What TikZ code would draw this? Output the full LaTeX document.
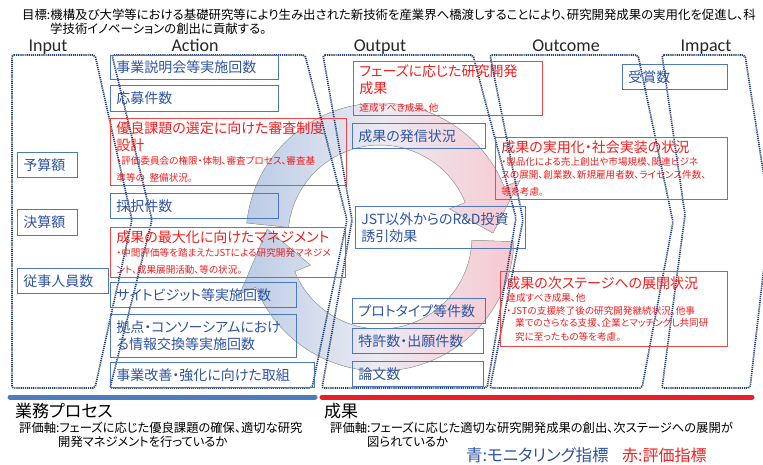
\documentclass[tikz,border=0pt]{standalone}
\usepackage{fontspec}
\setmainfont{Noto Sans CJK JP}[RawFeature=+palt]
\newfontfamily\latfont{Carlito}
\definecolor{boxblue}{RGB}{79,119,190}
\definecolor{txtblue}{RGB}{46,84,160}
\definecolor{boxred}{RGB}{240,70,70}
\definecolor{txtred}{RGB}{240,30,30}
\definecolor{colnavy}{RGB}{38,68,120}
\definecolor{barblue}{RGB}{75,125,190}
\definecolor{barred}{RGB}{235,30,40}
\definecolor{ringblue}{RGB}{186,204,230}
\definecolor{ringpink}{RGB}{248,200,208}
\definecolor{ringmid}{RGB}{236,234,242}
\tikzset{
  col/.style={draw=colnavy, line width=1.7pt, dash pattern=on 1.2pt off 0.9pt, rounded corners=2pt},
  bbox/.style={draw=boxblue, line width=0.9pt, text=txtblue, anchor=north west, inner xsep=6pt, inner ysep=0pt, align=left, font=\fontsize{14}{17}\selectfont},
  rbox/.style={draw=boxred, line width=0.9pt, text=txtred, anchor=north west, inner xsep=6pt, inner ysep=0pt, align=left, font=\fontsize{14}{17}\selectfont},
  hdr/.style={anchor=base, font=\latfont\fontsize{18}{20}\selectfont, text=black!85},
  plain/.style={anchor=base west, inner sep=0pt},
  ring/.style={left color=ringblue, right color=ringpink, middle color=ringmid, draw=black!35, line width=0.5pt}
}
\newcommand{\smalltxt}{\par\vspace{1pt}\fontsize{9.6}{12.2}\selectfont}
\begin{document}
\begin{tikzpicture}[x=1pt,y=-1pt]
\useasboundingbox (0,0) rectangle (763,464);

% circular arrows (drawn first, behind)
\filldraw[ring] plot[domain=186:338,samples=60] ({380+134*cos(\x)},{237+134*sin(\x)})
  -- ({380+151*cos(338)},{237+151*sin(338)})
  -- ({380+113*cos(358)},{237+113*sin(358)})
  -- ({380+75*cos(338)},{237+75*sin(338)})
  -- plot[domain=338:186,samples=60] ({380+92*cos(\x)},{237+92*sin(\x)}) -- cycle;
\filldraw[ring] plot[domain=2:158,samples=60] ({380+134*cos(\x)},{237+134*sin(\x)})
  -- ({380+151*cos(158)},{237+151*sin(158)})
  -- ({380+113*cos(184)},{237+113*sin(184)})
  -- ({380+75*cos(158)},{237+75*sin(158)})
  -- plot[domain=158:2,samples=60] ({380+92*cos(\x)},{237+92*sin(\x)}) -- cycle;

% goal text
\node[plain, font=\fontsize{12.4}{14}\selectfont] (goal1) at (22,19) {目標:機構及び大学等における基礎研究等により生み出された新技術を産業界へ橋渡しすることにより、研究開発成果の実用化を促進し、科};
\node[plain, font=\fontsize{12.4}{14}\selectfont] (goal2) at (50,33) {学技術イノベーションの創出に貢献する。};

% headers
\node[hdr] (hIn) at (48,51) {Input};
\node[hdr] (hAc) at (195,51) {Action};
\node[hdr] (hOu) at (380,51) {Output};
\node[hdr] (hOc) at (566,51) {Outcome};
\node[hdr] (hIm) at (706,51) {Impact};

% columns
\draw[col] (12,55) -- (95,55) -- (132,220) -- (95,388) -- (12,388) -- cycle;
\draw[col] (112,55) -- (305,55) -- (347,220) -- (312,388) -- (110,388) -- (152,220) -- cycle;
\draw[col] (323,55) -- (473,55) -- (516,218) -- (487,388) -- (322,388) -- (352,220) -- cycle;
\draw[col] (490,55) -- (638,55) -- (673,222) -- (642,388) -- (490,388) -- (523,220) -- cycle;
\draw[col] (662,55) -- (745,55) -- (770,215) -- (750,388) -- (662,388) -- (685,215) -- cycle;

% input boxes
\node[bbox, minimum width=60pt, minimum height=25pt, text width=48pt] (i1) at (17,152) {予算額};
\node[bbox, minimum width=60pt, minimum height=26pt, text width=48pt] (i2) at (17,209) {決算額};
\node[bbox, minimum width=91pt, minimum height=25pt, text width=79pt] (i3) at (17,268) {従事人員数};

% action boxes
\node[bbox, minimum width=168pt, minimum height=24pt, text width=156pt] (b1) at (110,55) {事業説明会等実施回数};
\node[bbox, minimum width=168pt, minimum height=26pt, text width=156pt] (b2) at (110,85) {応募件数};
\node[rbox, minimum width=236pt, minimum height=67pt, text width=224pt] (r1) at (110,118) {優良課題の選定に向けた審査制度\\設計\smalltxt ・評価委員会の権限・体制、審査プロセス、審査基\\準等の\ 整備状況。};
\node[bbox, minimum width=168pt, minimum height=25pt, text width=156pt] (b3) at (110,193) {採択件数};
\node[rbox, minimum width=235pt, minimum height=50pt, text width=223pt] (r2) at (110,227) {成果の最大化に向けたマネジメント\smalltxt ・中間評価等を踏まえたJSTによる研究開発マネジメ\\ント、成果展開活動、等の状況。};
\node[bbox, minimum width=186pt, minimum height=25pt, text width=174pt] (b4) at (110,282) {サイトビジット等実施回数};
\node[bbox, minimum width=186pt, minimum height=43pt, text width=174pt] (b5) at (110,314) {拠点・コンソーシアムにおけ\\る情報交換等実施回数};
\node[bbox, minimum width=204pt, minimum height=25pt, text width=192pt] (b6) at (110,362) {事業改善・強化に向けた取組};

% output boxes
\node[rbox, minimum width=189pt, minimum height=54pt, text width=177pt] (r3) at (353,61) {フェーズに応じた研究開発\\成果\smalltxt 達成すべき成果、他};
\node[bbox, minimum width=133pt, minimum height=25pt, text width=121pt] (o1) at (352,123) {成果の発信状況};
\node[bbox, minimum width=170pt, minimum height=42pt, text width=158pt] (o2) at (355,206) {JST以外からのR\&D投資\\誘引効果};
\node[bbox, minimum width=133pt, minimum height=25pt, text width=121pt] (o3) at (352,298) {プロトタイプ等件数};
\node[bbox, minimum width=131pt, minimum height=25pt, text width=119pt] (o4) at (352,328) {特許数・出願件数};
\node[bbox, minimum width=131pt, minimum height=25pt, text width=119pt] (o5) at (352,361) {論文数};

% outcome boxes
\node[rbox, minimum width=232pt, minimum height=62pt, text width=220pt] (r4) at (495,137) {成果の実用化・社会実装の状況\smalltxt ・製品化による売上創出や市場規模、関連ビジネ\\スの展開、創業数、新規雇用者数、ライセンス件数、\\等を考慮。};
\node[rbox, minimum width=227pt, minimum height=75pt, text width=215pt] (r5) at (500,271) {成果の次ステージへの展開状況\smalltxt 達成すべき成果、他\\・JSTの支援終了後の研究開発継続状況、他事\\\hspace*{0.9em}業でのさらなる支援、企業とマッチングし共同研\\[-3pt]\hspace*{0.9em}究に至ったもの等を考慮。};

% impact box
\node[bbox, minimum width=105pt, minimum height=25pt, text width=93pt] (m1) at (622,64) {受賞数};

% bars
\draw[barblue, line width=5pt, line cap=round] (10,397) -- (315,397);
\draw[barred, line width=5pt, line cap=round] (322,397) -- (752,397);

% bottom texts
\node[plain, font=\fontsize{17}{19}\selectfont] (proc) at (15,417) {業務プロセス};
\node[plain, font=\fontsize{12.3}{14}\selectfont] (ax1a) at (19,432) {評価軸:フェーズに応じた優良課題の確保、適切な研究};
\node[plain, font=\fontsize{12.3}{14}\selectfont] (ax1b) at (58,446) {開発マネジメントを行っているか};
\node[plain, font=\fontsize{17}{19}\selectfont] (res) at (324,417) {成果};
\node[plain, font=\fontsize{12.3}{14}\selectfont] (ax2a) at (330,432) {評価軸:フェーズに応じた適切な研究開発成果の創出、次ステージへの展開が};
\node[plain, font=\fontsize{12.3}{14}\selectfont] (ax2b) at (367,446) {図られているか};
\node[plain, font=\fontsize{16.5}{18}\selectfont, text=txtblue] (legb) at (466,461) {青:モニタリング指標};
\node[plain, font=\fontsize{16}{18}\selectfont, text=txtred] (legr) at (622,461) {赤:評価指標};
\end{tikzpicture}
\end{document}
